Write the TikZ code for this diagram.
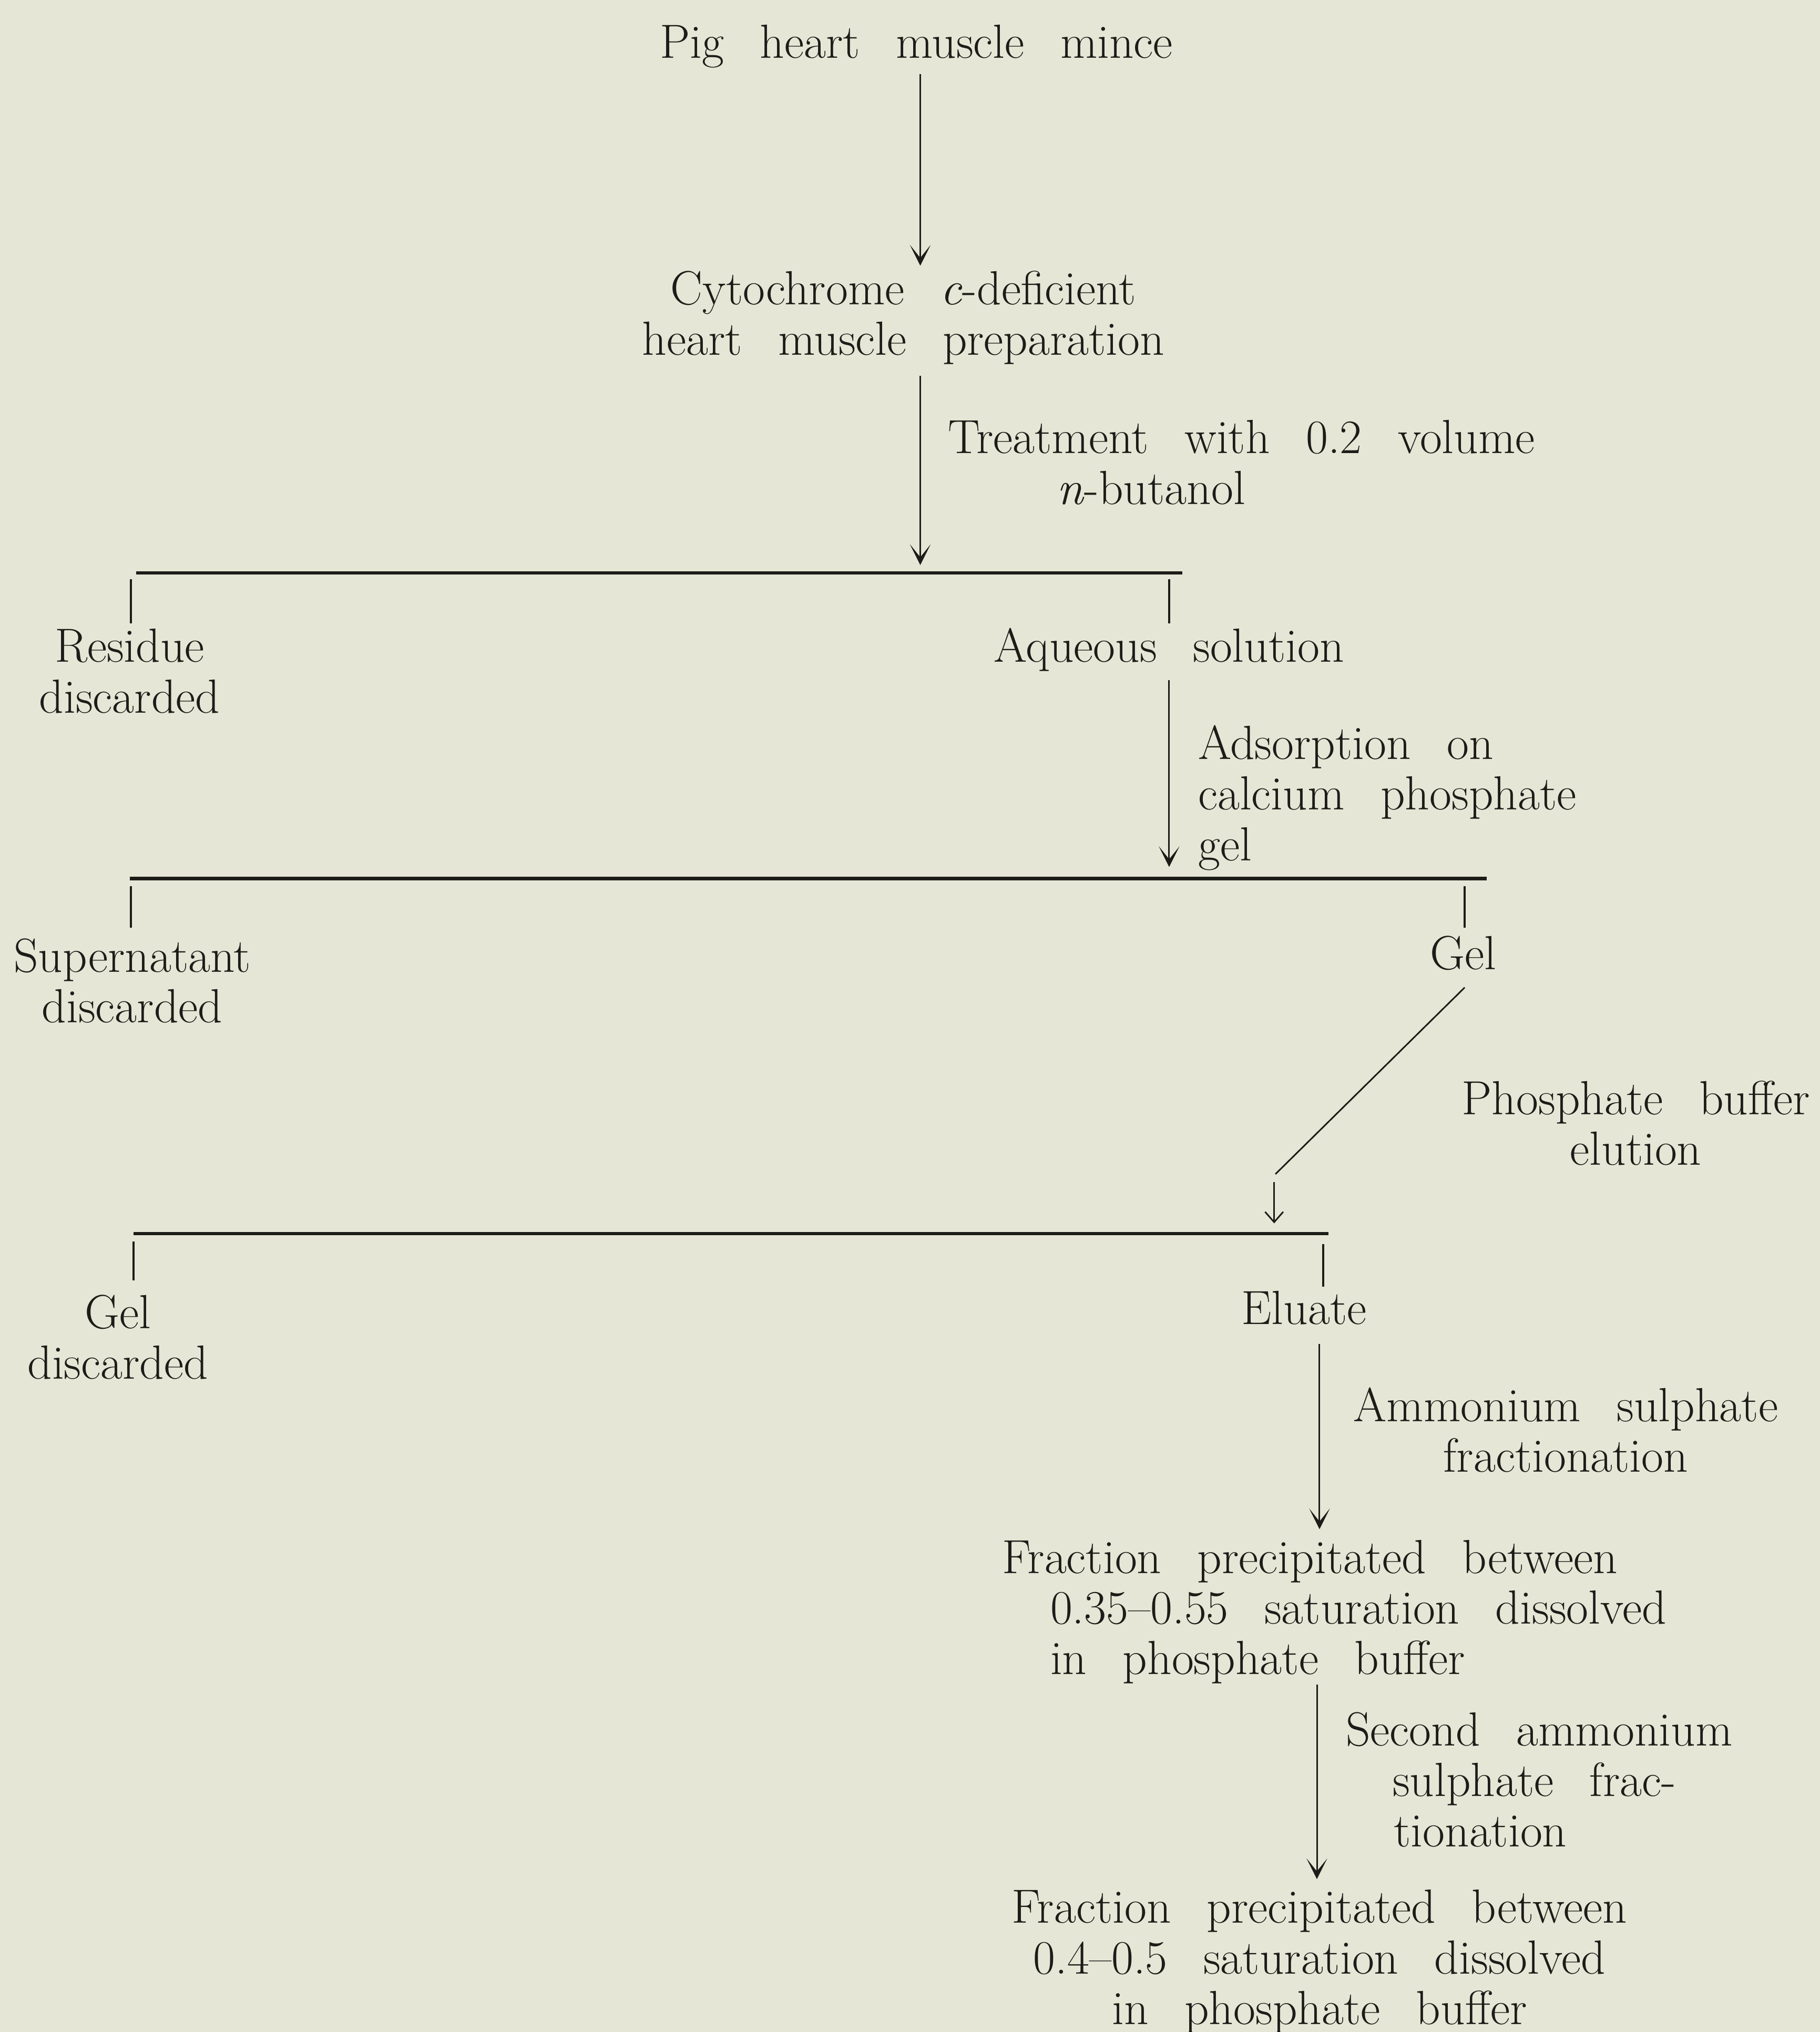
\documentclass[tikz,border=0pt]{standalone}
\usetikzlibrary{arrows.meta}
\definecolor{paper}{RGB}{230,230,214}
\definecolor{ink}{RGB}{28,28,24}
\newcommand\txtfont{\fontsize{18.5}{19.5}\selectfont\spaceskip=0.75em\relax}
\begin{document}
\begin{tikzpicture}[x=0.5pt,y=-0.5pt,
  lbl/.style={font=\txtfont, inner sep=0pt, text=ink},
  flow/.style={draw=ink, line width=0.6pt, -{Stealth[length=8pt,width=8pt,inset=5pt]}},
  smallflow/.style={draw=ink, line width=0.6pt, -{Straight Barb[length=4pt,width=7pt,line width=0.6pt]}},
  bar/.style={draw=ink, line width=1.3pt},
  tick/.style={draw=ink, line width=0.8pt},
  diag/.style={draw=ink, line width=0.6pt}]
\fill[paper] (0,0) rectangle (1404,1568);
\useasboundingbox (0,0) rectangle (1404,1568);

% texts (anchor=base of a multi-line node = baseline of its last line)
\node[lbl, anchor=base] (pig) at (707,45) {Pig heart muscle mince};
\node[lbl, anchor=base, align=center] (cyto) at (697,274) {Cytochrome \textit{c}-deficient\\heart muscle preparation};
\node[lbl, anchor=base west, align=left] (treat) at (731,389) {Treatment with 0.2 volume\\\hspace*{42pt}\textit{n}-butanol};
\node[lbl, anchor=base, align=center] (residue) at (100,550) {Residue\\discarded};
\node[lbl, anchor=base] (aqueous) at (902,511) {Aqueous solution};
\node[lbl, anchor=base west, align=left] (adsorb) at (924,664) {Adsorption on\\calcium phosphate\\gel};
\node[lbl, anchor=base, align=center] (super) at (102,789) {Supernatant\\discarded};
\node[lbl, anchor=base] (gel) at (1129,748) {Gel};
\node[lbl, anchor=base, align=center] (phos) at (1262,899) {Phosphate buffer\\elution};
\node[lbl, anchor=base, align=center] (geld) at (91,1064) {Gel\\discarded};
\node[lbl, anchor=base] (eluate) at (1006,1022) {Eluate};
\node[lbl, anchor=base, align=center] (ammon) at (1208,1136) {Ammonium sulphate\\fractionation};
\node[lbl, anchor=base west, align=left] (frac1) at (773,1292) {Fraction precipitated between\\\hspace*{18.5pt}0.35--0.55 saturation dissolved\\\hspace*{18.5pt}in phosphate buffer};
\node[lbl, anchor=base west, align=left] (second) at (1038,1425) {Second ammonium\\\hspace*{18pt}sulphate frac-\\\hspace*{18.5pt}tionation};
\node[lbl, anchor=base, align=center] (frac2) at (1018,1562) {Fraction precipitated between\\0.4--0.5 saturation dissolved\\in phosphate buffer};

% connector end points
\coordinate (a1s) at (710,57);   \coordinate (a1e) at (710,205);
\coordinate (a2s) at (710,290);  \coordinate (a2e) at (710,436);
\coordinate (b1l) at (105,442);  \coordinate (b1r) at (912,442);
\coordinate (t1ls) at (101,447); \coordinate (t1le) at (101,481);
\coordinate (t1rs) at (902,447); \coordinate (t1re) at (902,481);
\coordinate (a3s) at (902,525);  \coordinate (a3e) at (902,669);
\coordinate (b2l) at (100,678);  \coordinate (b2r) at (1147,678);
\coordinate (t2ls) at (101,684); \coordinate (t2le) at (101,716);
\coordinate (t2rs) at (1130,684);\coordinate (t2re) at (1130,716);
\coordinate (ds) at (1130,762);  \coordinate (de) at (984,906);
\coordinate (a4s) at (983,912);  \coordinate (a4e) at (983,944);
\coordinate (b3l) at (103,952);  \coordinate (b3r) at (1025,952);
\coordinate (t3ls) at (103,958); \coordinate (t3le) at (103,988);
\coordinate (t3rs) at (1021,960);\coordinate (t3re) at (1021,993);
\coordinate (a5s) at (1018,1037);\coordinate (a5e) at (1018,1180);
\coordinate (a6s) at (1016,1300);\coordinate (a6e) at (1016,1450);

% connectors
\draw[flow] (a1s) -- (a1e);
\draw[flow] (a2s) -- (a2e);
\draw[bar] (b1l) -- (b1r);
\draw[tick] (t1ls) -- (t1le);
\draw[tick] (t1rs) -- (t1re);
\draw[flow] (a3s) -- (a3e);
\draw[bar] (b2l) -- (b2r);
\draw[tick] (t2ls) -- (t2le);
\draw[tick] (t2rs) -- (t2re);
\draw[diag] (ds) -- (de);
\draw[smallflow] (a4s) -- (a4e);
\draw[bar] (b3l) -- (b3r);
\draw[tick] (t3ls) -- (t3le);
\draw[tick] (t3rs) -- (t3re);
\draw[flow] (a5s) -- (a5e);
\draw[flow] (a6s) -- (a6e);
\end{tikzpicture}
\end{document}
